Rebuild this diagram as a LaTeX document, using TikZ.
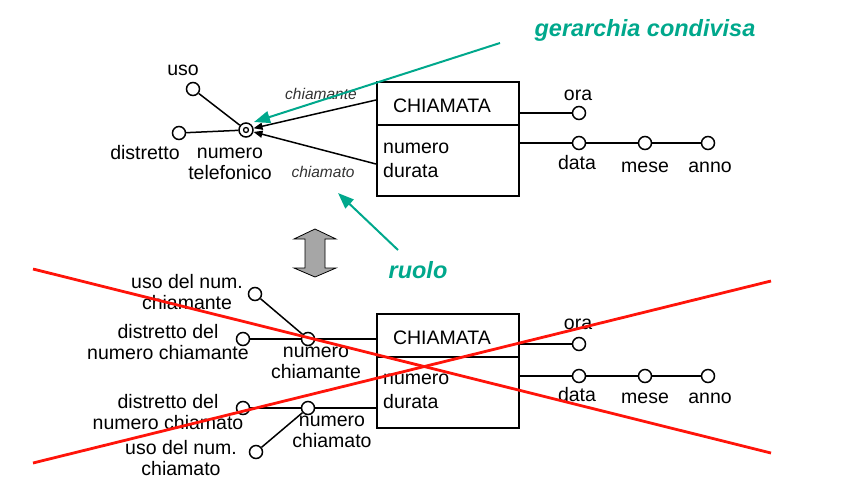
\documentclass[tikz,border=0pt]{standalone}
\usepackage{fontspec}
\setmainfont{Liberation Sans}
\usetikzlibrary{arrows.meta}
\definecolor{teal1}{RGB}{0,168,140}
\definecolor{red1}{RGB}{255,20,10}
\begin{document}
\begin{tikzpicture}[x=1pt,y=-1pt,
    attr/.style={draw,circle,line width=1.5pt,fill=white,inner sep=0pt,minimum size=13pt},
    lab/.style={font=\fontsize{19.5}{21.5}\selectfont,align=center,inner sep=0pt},
    role/.style={font=\fontsize{15.5}{18}\selectfont\itshape,text=black!80,inner sep=0pt},
    head/.style={draw,line width=1.5pt,minimum width=142pt,minimum height=43pt,inner sep=0pt},
    body/.style={draw,line width=1.5pt,minimum width=142pt,minimum height=71pt,inner sep=0pt},
    note/.style={font=\fontsize{23.5}{26}\selectfont\bfseries\itshape,text=teal1,inner sep=0pt},
    link/.style={line width=1.5pt}]
  \useasboundingbox (0,0) rectangle (858,501);
  % top: shared hierarchy
  \node[head,anchor=north west] (ent1) at (376,81) {};
  \node[body,anchor=north west] (att1) at (376,124) {};
  \node[lab] at (442,106) {CHIAMATA};
  \node[lab,align=left,anchor=west,font=\fontsize{19.5}{24}\selectfont] at (383,160) {numero\\durata};
  \node[attr] (uso) at (193,89) {};
  \node[attr] (distr) at (179,133) {};
  \node[attr,minimum size=14pt] (numtel) at (246,130) {};
  \draw[line width=1.3pt] (numtel) circle (2.5pt);
  \draw[link] (uso) -- (numtel);
  \draw[link] (distr) -- (numtel);
  \node[lab] at (183,70) {uso};
  \node[lab] at (145,153) {distretto};
  \node[lab] at (230,164) {numero\\telefonico};
  \draw[link,-{Triangle[length=9pt,width=7pt]}] (ent1.west |- 0,100) -- (numtel);
  \draw[link,-{Triangle[length=9pt,width=7pt]}] (att1.west |- 0,164) -- (numtel);
  \node[role] at (321,94) {chiamante};
  \node[role] at (323,172) {chiamato};
  \node[attr] (ora) at (579,113) {};
  \foreach \n/\px in {data/579,mese/645,anno/708}
    \node[attr] (\n) at (\px,143) {};
  \draw[link] (ent1.east |- ora) -- (ora);
  \draw[link] (att1.east |- data) -- (data) -- (mese) -- (anno);
  \node[lab] at (578,95) {ora};
  \node[lab] at (577,163) {data};
  \node[lab] at (645,167) {mese};
  \node[lab] at (710,167) {anno};
  % notes
  \draw[teal1,line width=2pt,-{Triangle[length=16pt,width=12pt]}] (500,43) -- (254,122);
  \draw[teal1,line width=2pt,-{Triangle[length=16pt,width=12pt]}] (398,250) -- (338,193);
  \node[note] at (645,30) {gerarchia condivisa};
  \node[note] at (418,270) {ruolo};
  % double arrow
  \draw[fill=black!35,line width=0.8pt] (315,229) -- (336,239) -- (325,239) -- (325,268)
    -- (336,268) -- (315,277) -- (294,268) -- (305,268) -- (305,239) -- (294,239) -- cycle;
  % bottom: without roles
  \node[head,anchor=north west] (ent2) at (376,313) {};
  \node[body,anchor=north west] (att2) at (376,356) {};
  \node[lab] at (442,338) {CHIAMATA};
  \node[lab,align=left,anchor=west,font=\fontsize{19.5}{24}\selectfont] at (383,391) {numero\\durata};
  \node[attr] (usoA) at (255,294) {};
  \node[attr] (distrA) at (243,339) {};
  \node[attr] (numA) at (308,339) {};
  \node[attr] (distrB) at (243,408) {};
  \node[attr] (numB) at (308,408) {};
  \node[attr] (usoB) at (256,452) {};
  \draw[link] (usoA) -- (numA);
  \draw[link] (distrA) -- (numA) -- (ent2.west |- numA);
  \draw[link] (distrB) -- (numB) -- (att2.west |- numB);
  \draw[link] (usoB) -- (numB);
  \node[lab] at (187,292) {uso del num.\\chiamante};
  \node[lab] at (168,342) {distretto del\\numero chiamante};
  \node[lab] at (316,363) {numero\\chiamante};
  \node[lab] at (168,412) {distretto del\\numero chiamato};
  \node[lab] at (181,458) {uso del num.\\chiamato};
  \node[lab] at (332,432) {numero\\chiamato};
  \node[attr] (ora2) at (579,344) {};
  \foreach \n/\px in {data2/579,mese2/645,anno2/708}
    \node[attr] (\n) at (\px,376) {};
  \draw[link] (ent2.east |- ora2) -- (ora2);
  \draw[link] (att2.east |- data2) -- (data2) -- (mese2) -- (anno2);
  \node[lab] at (578,324) {ora};
  \node[lab] at (577,395) {data};
  \node[lab] at (645,398) {mese};
  \node[lab] at (710,398) {anno};
  % crossed out
  \draw[red1,line width=2.8pt] (33,269) -- (771,453);
  \draw[red1,line width=2.8pt] (33,463) -- (771,281);
\end{tikzpicture}
\end{document}
